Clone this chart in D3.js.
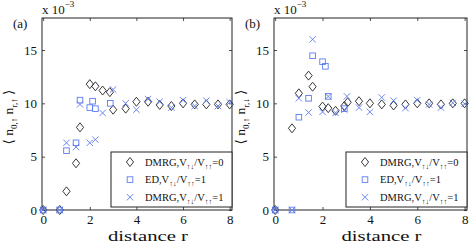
<!DOCTYPE html>
<html>
<head>
<meta charset="utf-8">
<script src="https://cdn.jsdelivr.net/npm/d3@7"></script>
<style>
  body { margin: 0; background: #fff; }
  svg { display: block; font-family: "Liberation Serif", "Times New Roman", "DejaVu Serif", serif; }
  svg text { font-family: "Liberation Serif", "Times New Roman", "DejaVu Serif", serif; fill: #111; }
</style>
</head>
<body>
<div id="chart"></div>
<script>
// ---- data (values in units of 10^-3) ----
const xTicks = [0, 2, 4, 6, 8];
const yTicks = [0, 5, 10, 15];

// panel (a): <n0,up n_r,up>
const dmrg0A_r = [0, 0.71, 1, 1.41, 1.58, 2, 2.24, 2.55, 2.86, 3, 3.54, 4, 4.5, 5, 5.5, 6, 6.5, 7, 7.5, 8];
const dmrg0A_v = [0, 0, 1.75, 4.38, 7.75, 11.8, 11.6, 11.2, 11.05, 9.4, 9.5, 10.15, 10.15, 9.85, 9.75, 10.0, 9.9, 9.9, 9.9, 9.9];
const edA_r = [0, 0.71, 1, 1.41, 1.58, 2, 2.12, 2.24, 2.88];
const edA_v = [0, 0, 5.56, 6.3, 10.3, 9.6, 10.2, 9.5, 10.0];
const dmrg1A_r = [0, 0.71, 1, 1.41, 1.58, 2, 2.24, 2.55, 3, 3.54, 4, 4.5, 5, 5.5, 6, 6.5, 7, 7.5, 8];
const dmrg1A_v = [0, 0, 6.3, 5.9, 9.9, 6.3, 6.6, 9.1, 11.3, 10.0, 9.4, 10.4, 10.15, 9.6, 10.3, 9.75, 10.25, 9.75, 10.1];

// panel (b): <n0,up n_r,down>
const dmrg0B_r = [0, 0.71, 1, 1.41, 1.58, 2, 2.24, 2.55, 2.92, 3.06, 3.54, 4, 4.5, 5, 5.5, 6, 6.5, 7, 7.5, 8];
const dmrg0B_v = [0, 7.66, 10.94, 12.6, 11.56, 9.7, 9.55, 9.3, 9.75, 10.1, 10.2, 10.0, 9.9, 9.8, 9.9, 10.0, 10.0, 9.9, 10.0, 10.0];
const edB_r = [0, 0.71, 1, 1.41, 1.58, 2, 2.12, 2.24, 2.92];
const edB_v = [0, 0, 8.7, 10.47, 14.46, 13.9, 13.47, 10.65, 9.5];
const dmrg1B_r = [0, 0.71, 1, 1.41, 1.58, 2, 2.24, 2.55, 2.92, 3.03, 3.54, 4, 4.5, 5, 5.5, 6, 6.5, 7, 7.5, 8];
const dmrg1B_v = [0, 0, 10.47, 9.14, 16.0, 9.2, 10.65, 9.1, 9.4, 10.65, 9.6, 9.2, 10.55, 10.25, 9.55, 10.3, 9.9, 9.6, 10.05, 9.95];

const legendLabels = ["=0", "=1", "=1"];
const legendPrefix = ["DMRG,V", "ED,V", "DMRG,V"];

const blue = "#5b7cf0";
const dark = "#222";
const serif = "'Liberation Serif', 'Times New Roman', 'DejaVu Serif', serif";

const svg = d3.select("#chart").append("svg")
    .attr("width", 471)
    .attr("height", 242)
    .attr("font-family", serif);

function zip(r, v) { return r.map((d, i) => ({ r: d, v: v[i] })); }

function drawMarker(g, type, x, y) {
    if (type === "diamond") {
        g.append("path")
            .attr("d", `M${x},${y - 4.5}L${x + 3.6},${y}L${x},${y + 4.5}L${x - 3.6},${y}Z`)
            .attr("fill", "none").attr("stroke", dark).attr("stroke-width", 0.9);
    } else if (type === "square") {
        g.append("rect")
            .attr("x", x - 2.8).attr("y", y - 2.8).attr("width", 5.6).attr("height", 5.6)
            .attr("fill", "none").attr("stroke", blue).attr("stroke-width", 0.9);
    } else {
        g.append("path")
            .attr("d", `M${x - 3.2},${y - 3.2}L${x + 3.2},${y + 3.2}M${x - 3.2},${y + 3.2}L${x + 3.2},${y - 3.2}`)
            .attr("fill", "none").attr("stroke", blue).attr("stroke-width", 0.9);
    }
}

function drawPanel(opts) {
    const { left, right, top, bottom, tag, subR, series } = opts;

    const x = d3.scaleLinear().domain([-0.05, 8.1]).range([left, right]);
    const y = d3.scaleLinear().domain([0, 18]).range([bottom, top]);

    const g = svg.append("g");

    // axes with MATLAB-style inward ticks on all sides
    const xAxisB = d3.axisBottom(x).tickValues(xTicks).tickSize(-3).tickPadding(5);
    const xAxisT = d3.axisTop(x).tickValues(xTicks).tickSize(-3).tickFormat("");
    const yAxisL = d3.axisLeft(y).tickValues(yTicks).tickSize(-3).tickPadding(5);
    const yAxisR = d3.axisRight(y).tickValues(yTicks).tickSize(-3).tickFormat("");

    const gb = g.append("g").attr("transform", `translate(0,${bottom})`).call(xAxisB);
    const gt = g.append("g").attr("transform", `translate(0,${top})`).call(xAxisT);
    const gl = g.append("g").attr("transform", `translate(${left},0)`).call(yAxisL);
    const gr = g.append("g").attr("transform", `translate(${right},0)`).call(yAxisR);
    [gb, gt, gl, gr].forEach(a => {
        a.attr("font-family", serif).attr("font-size", 13);
        a.selectAll(".domain").remove();
        a.selectAll(".tick line").attr("stroke", dark).attr("stroke-width", 0.8);
        a.selectAll("text").attr("fill", "#111");
    });

    g.append("rect")
        .attr("x", left).attr("y", top)
        .attr("width", right - left).attr("height", bottom - top)
        .attr("fill", "none").attr("stroke", dark).attr("stroke-width", 1);

    // data markers
    const mg = g.append("g");
    series.forEach(s => {
        zip(s.r, s.v).forEach(d => drawMarker(mg, s.type, x(d.r), y(d.v)));
    });

    // exponent label
    const ex = g.append("text").attr("x", left).attr("y", 14).attr("font-size", 13);
    ex.append("tspan").text("x 10");
    ex.append("tspan").attr("dy", -7).attr("font-size", 9).text("−3");

    // panel tag
    g.append("text").attr("x", left - 29).attr("y", 28).attr("font-size", 13).text(tag);

    // y label
    const yl = g.append("text")
        .attr("transform", `translate(${left - 29},${(top + bottom) / 2 + 3}) rotate(-90)`)
        .attr("text-anchor", "middle")
        .attr("font-size", 13.5);
    yl.append("tspan").text("⟨ n");
    yl.append("tspan").attr("font-size", 9).attr("dy", 3.5).text("0,↑");
    yl.append("tspan").attr("dy", -3.5).text(" n");
    yl.append("tspan").attr("font-size", 9).attr("dy", 3.5).text("r," + subR);
    yl.append("tspan").attr("dy", -3.5).text(" ⟩");

    // x label (reference glyphs are wide, so stretch to its measured width)
    g.append("text")
        .attr("x", (left + right) / 2 + 11)
        .attr("y", 240.5)
        .attr("text-anchor", "middle")
        .attr("font-size", 14.5)
        .attr("textLength", 80)
        .attr("lengthAdjust", "spacingAndGlyphs")
        .text("distance r");

    // legend
    const lx = right - 121, ly = 152, lw = 121, lh = 55;
    const lg = g.append("g");
    lg.append("rect")
        .attr("x", lx).attr("y", ly).attr("width", lw).attr("height", lh)
        .attr("fill", "#fff").attr("stroke", dark).attr("stroke-width", 1);
    series.forEach((s, i) => {
        const cy = ly + 10 + i * 17.6;
        drawMarker(lg, s.type, lx + 19, cy);
        const t = lg.append("text").attr("x", lx + 34).attr("y", cy + 3.5).attr("font-size", 10.5);
        t.append("tspan").text(legendPrefix[i]);
        t.append("tspan").attr("font-size", 7.5).attr("dy", 3).text("↑↓");
        t.append("tspan").attr("dy", -3).text("/V");
        t.append("tspan").attr("font-size", 7.5).attr("dy", 3).text("↑↑");
        t.append("tspan").attr("dy", -3).text(legendLabels[i]);
    });
}

drawPanel({
    left: 42, right: 232, top: 18, bottom: 210, tag: "(a)", subR: "↑",
    series: [
        { type: "diamond", r: dmrg0A_r, v: dmrg0A_v },
        { type: "square", r: edA_r, v: edA_v },
        { type: "cross", r: dmrg1A_r, v: dmrg1A_v }
    ]
});

drawPanel({
    left: 274, right: 467, top: 18, bottom: 210, tag: "(b)", subR: "↓",
    series: [
        { type: "diamond", r: dmrg0B_r, v: dmrg0B_v },
        { type: "square", r: edB_r, v: edB_v },
        { type: "cross", r: dmrg1B_r, v: dmrg1B_v }
    ]
});
</script>
</body>
</html>
